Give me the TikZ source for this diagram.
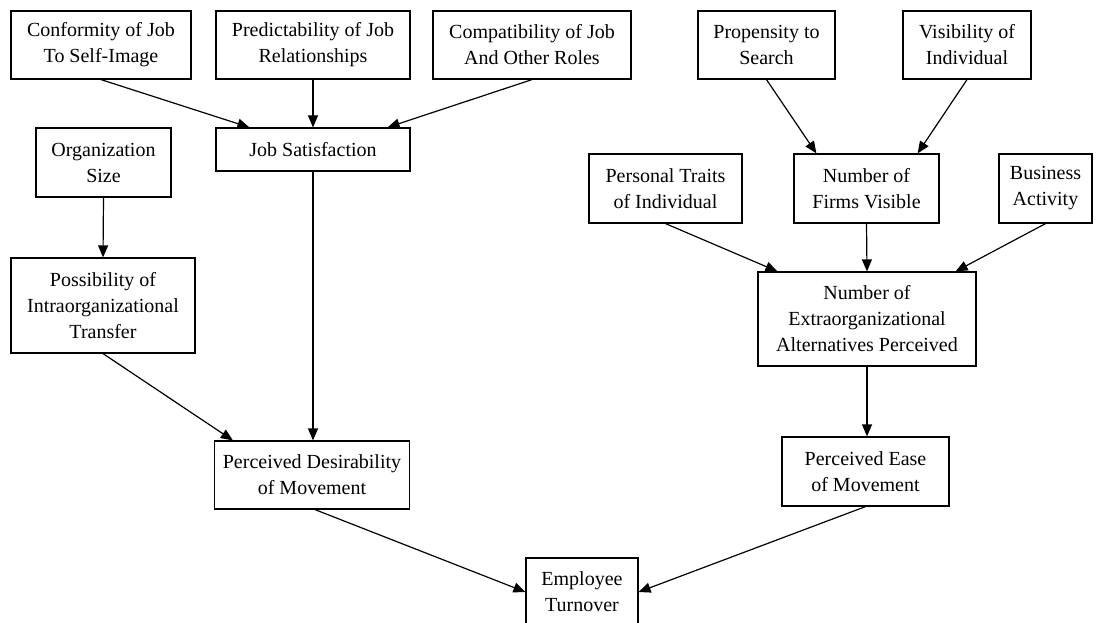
\documentclass[tikz,border=0pt]{standalone}
\usepackage{fontspec}
\setmainfont{Liberation Serif}
\usetikzlibrary{
    arrows.meta
}
\tikzset{
    every picture/.style = {
        > = {Triangle[length = 12pt, width = 10pt]},
        line width = 1.2pt,
        x = 1pt,
        y = -1pt
    },
    factor/.style = {
        draw,
        rectangle,
        align = center,
        inner sep = 2pt,
        font = \fontsize{20}{26}\selectfont
    },
    boxsize/.style 2 args = {
        minimum width = #1pt,
        minimum height = #2pt
    }
}

\begin{document}
\begin{tikzpicture}
    \useasboundingbox (0, 0) rectangle (1099, 623);
    \clip (0, 0) rectangle (1099, 623);
    % top row
    \node[factor, boxsize = {180}{68}] (conf) at (101, 45) {Conformity of Job\\To Self-Image};
    \node[factor, boxsize = {194}{68}] (pred) at (313, 45) {Predictability of Job\\Relationships};
    \node[factor, boxsize = {198}{68}] (comp) at (532, 45) {Compatibility of Job\\And Other Roles};
    \node[factor, boxsize = {137}{68}] (prop) at (766.5, 45) {Propensity to\\Search};
    \node[factor, boxsize = {128}{68}] (vis) at (967, 45) {Visibility of\\Individual};
    % second row
    \node[factor, boxsize = {135}{69}] (orgsize) at (103.5, 162.5) {Organization\\Size};
    \node[factor, boxsize = {194}{43}] (jobsat) at (313, 149.5) {Job Satisfaction};
    \node[factor, boxsize = {153}{69}] (traits) at (665.5, 188.5) {Personal Traits\\of Individual};
    \node[factor, boxsize = {145}{69}] (firms) at (866.5, 188.5) {Number of\\Firms Visible};
    \node[factor, boxsize = {93}{69}] (business) at (1045.5, 188.5) {Business\\Activity};
    % middle
    \node[factor, boxsize = {184}{95}] (transfer) at (103, 305.5) {Possibility of\\Intraorganizational\\Transfer};
    \node[factor, boxsize = {218}{94}] (alternatives) at (867, 319) {Number of\\Extraorganizational\\Alternatives Perceived};
    \node[factor, boxsize = {195}{68}] (desirability) at (312, 475) {Perceived Desirability\\of Movement};
    \node[factor, boxsize = {167}{69}] (ease) at (865.5, 471.5) {Perceived Ease\\of Movement};
    \node[factor, boxsize = {112}{68}] (turnover) at (582, 592) {Employee\\Turnover};
    % arrows
    \path[->] (conf.south) edge ([xshift = 34pt]jobsat.north west);
    \path[->] (pred.south) edge (jobsat.north);
    \path[->] (comp.south) edge ([xshift = -23pt]jobsat.north east);
    \path[->] (prop.south) edge ([xshift = 23pt]firms.north west);
    \path[->] (vis.south) edge ([xshift = -22pt]firms.north east);
    \path[->] (orgsize.south) edge (transfer.north);
    \path[->] (jobsat.south) edge (jobsat.south |- desirability.north);
    \path[->] (transfer.south) edge ([xshift = 19pt]desirability.north west);
    \path[->] (traits.south) edge ([xshift = 20pt]alternatives.north west);
    \path[->] (firms.south) edge (alternatives.north);
    \path[->] (business.south) edge ([xshift = -21pt]alternatives.north east);
    \path[->] (alternatives.south) edge (alternatives.south |- ease.north);
    \path[->] ([xshift = 3pt]desirability.south) edge (turnover.west);
    \path[->] (ease.south) edge (turnover.east);
\end{tikzpicture}
\end{document}
